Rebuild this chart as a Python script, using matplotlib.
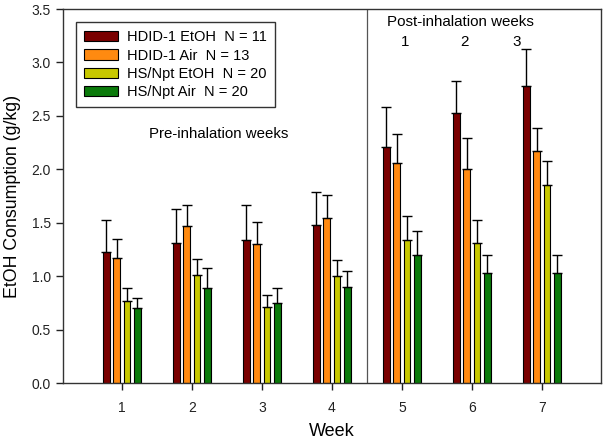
import matplotlib
matplotlib.use("Agg")
import matplotlib.pyplot as plt
import numpy as np

plt.rcParams['font.family'] = ['Liberation Sans', 'DejaVu Sans']

weeks = [1, 2, 3, 4, 5, 6, 7]
series_names = ["HDID-1 EtOH  N = 11", "HDID-1 Air  N = 13", "HS/Npt EtOH  N = 20", "HS/Npt Air  N = 20"]
colors = ["#7A0000", "#FF8A10", "#C8C800", "#0A7A0A"]

hdid_etoh = [1.23, 1.31, 1.34, 1.48, 2.21, 2.53, 2.78]
hdid_etoh_err = [0.30, 0.32, 0.33, 0.31, 0.37, 0.30, 0.35]
hdid_air = [1.17, 1.47, 1.30, 1.54, 2.06, 2.00, 2.17]
hdid_air_err = [0.18, 0.20, 0.21, 0.22, 0.27, 0.29, 0.22]
hs_etoh = [0.77, 1.01, 0.71, 1.00, 1.34, 1.31, 1.85]
hs_etoh_err = [0.12, 0.15, 0.11, 0.15, 0.22, 0.22, 0.23]
hs_air = [0.70, 0.89, 0.75, 0.90, 1.20, 1.03, 1.03]
hs_air_err = [0.10, 0.19, 0.14, 0.15, 0.22, 0.17, 0.17]

values = [hdid_etoh, hdid_air, hs_etoh, hs_air]
errors = [hdid_etoh_err, hdid_air_err, hs_etoh_err, hs_air_err]

fig = plt.figure(figsize=(6.05, 4.41), dpi=100)
ax = fig.add_axes([0.104, 0.1315, 0.889, 0.848])

x = np.array(weeks, dtype=float)
step = 0.147
width = 0.095
for i, (vals, errs, col, name) in enumerate(zip(values, errors, colors, series_names)):
    pos = x + (i - 1.5) * step
    ax.bar(pos, vals, width=width, color=col, edgecolor='black', linewidth=0.8, label=name, zorder=2)
    ax.errorbar(pos, vals, yerr=[np.zeros(len(errs)), errs], fmt='none', ecolor='black',
                elinewidth=1.0, capsize=3.5, capthick=1.0, zorder=3)

ax.set_xlim(0.157, 7.843)
ax.set_ylim(0, 3.5)
ax.set_xticks(weeks)
ax.set_xticklabels([str(w) for w in weeks])
ax.set_yticks(np.arange(0, 3.51, 0.5))
ax.set_yticklabels([f"{v:.1f}" for v in np.arange(0, 3.51, 0.5)])
ax.tick_params(axis='both', direction='out', length=5, width=1, labelsize=10, colors='#222222')
ax.tick_params(axis='x', pad=8)
for s in ax.spines.values():
    s.set_linewidth(1.0)
    s.set_color('#333333')

ax.axvline(4.5, color='#555555', linewidth=0.9, zorder=1)

ax.set_xlabel("Week", fontsize=13, labelpad=6)
ax.set_ylabel("EtOH Consumption (g/kg)", fontsize=12.8, labelpad=8)

ax.text(2.39, 2.33, "Pre-inhalation weeks", fontsize=10.8, ha='center', va='center')
ax.text(5.84, 3.38, "Post-inhalation weeks", fontsize=10.9, ha='center', va='center')
ax.text(5.05, 3.19, "1", fontsize=10.9, ha='center', va='center')
ax.text(5.90, 3.19, "2", fontsize=10.9, ha='center', va='center')
ax.text(6.64, 3.19, "3", fontsize=10.9, ha='center', va='center')

leg = ax.legend(loc='upper left', bbox_to_anchor=(0.0236, 0.965), borderaxespad=0,
                fontsize=10.5, frameon=True, fancybox=False, handlelength=2.35, handleheight=0.7,
                labelspacing=0.3, handletextpad=0.6, borderpad=0.55)
leg.get_frame().set_edgecolor('black')
leg.get_frame().set_linewidth(1.0)

fig.savefig("out.png", dpi=100)
